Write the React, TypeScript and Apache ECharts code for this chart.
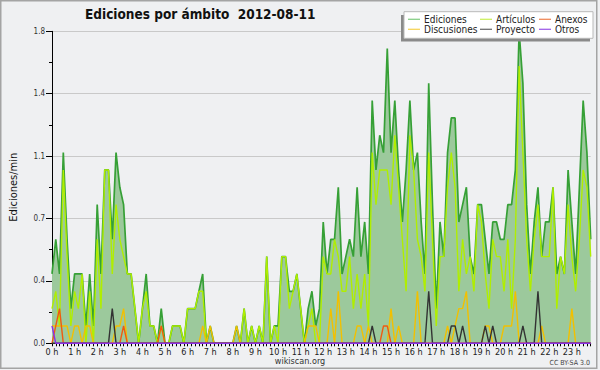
import React, { useEffect, useRef } from 'react';
import * as echarts from 'echarts';

const FONT = "'DejaVu Sans Condensed', 'Liberation Sans Narrow', 'DejaVu Sans', sans-serif";

// 10-minute slots of 2012-08-11
const timeSlots: string[] = [];
for (let h = 0; h < 24; h++) {
  for (let m = 0; m < 60; m += 10) timeSlots.push(`${h}:${m === 0 ? '00' : m}`);
}

const seriesNames = ['Ediciones', 'Artículos', 'Anexos', 'Discusiones', 'Proyecto', 'Otros'];

const ediciones = [
  0.4, 0.6, 0.4, 1.1, 0.6, 0.2, 0.4, 0.4, 0.4, 0.1,
  0.4, 0.1, 0.8, 0.4, 1.0, 1.0, 0.6, 1.1, 0.9, 0.8,
  0.4, 0.4, 0.2, 0, 0.2, 0.4, 0.1, 0.1, 0, 0.2,
  0, 0, 0.1, 0.1, 0.1, 0, 0.2, 0.2, 0.2, 0.3,
  0.4, 0, 0.1, 0, 0, 0, 0, 0, 0, 0.1,
  0, 0.2, 0, 0.1, 0, 0.1, 0, 0.5, 0, 0.1,
  0.1, 0.5, 0.5, 0.3, 0.3, 0.4, 0.2, 0, 0.2, 0.3,
  0.1, 0.2, 0.7, 0.4, 0.6, 0.6, 0.9, 0.4, 0.5, 0.6,
  0.5, 0.9, 0.5, 0.7, 0.4, 1.4, 1.0, 1.2, 1.1, 1.7,
  1.1, 1.4, 1.0, 0.7, 1.0, 1.4, 1.0, 1.1, 0.7, 0.4,
  1.5, 0.8, 0.2, 0.7, 0.5, 1.1, 1.3, 1.3, 0.7, 0.8,
  0.9, 0.5, 0.4, 0.8, 0.8, 0.6, 0.4, 0.7, 0.7, 0.6,
  0.6, 0.8, 0.8, 1.0, 1.8, 1.5, 0.8, 0.4, 0.7, 0.9,
  0.5, 0.7, 0.7, 0.9, 0.4, 0.5, 0.4, 1.0, 0.7, 0.4,
  0.9, 1.4, 1.1, 0.6,
];

const articulos = [
  0.2, 0.3, 0.1, 1.0, 0.5, 0.1, 0.3, 0.2, 0.4, 0,
  0.3, 0, 0.6, 0.2, 1.0, 1.0, 0.4, 0.8, 0.6, 0.5,
  0.4, 0.4, 0.2, 0, 0.2, 0.3, 0.1, 0.1, 0, 0.1,
  0, 0, 0.1, 0.1, 0.1, 0, 0.2, 0.2, 0.2, 0.3,
  0.3, 0, 0, 0, 0, 0, 0, 0, 0, 0,
  0, 0.2, 0, 0.1, 0, 0.1, 0, 0.5, 0, 0.1,
  0, 0.5, 0.5, 0.2, 0.3, 0.4, 0.2, 0, 0.1, 0.2,
  0, 0, 0.5, 0.4, 0.4, 0.6, 0.5, 0.3, 0.3, 0.5,
  0.2, 0.4, 0.2, 0.4, 0.1, 1.1, 0.8, 1.0, 1.0, 1.0,
  0.8, 1.2, 0.9, 0.6, 0.3, 1.2, 1.0, 0.6, 0.5, 0.3,
  1.1, 0.6, 0.1, 0.5, 0.5, 0.9, 1.1, 0.9, 0.3, 0.6,
  0.4, 0.5, 0.3, 0.8, 0.7, 0.4, 0.2, 0.6, 0.5, 0.5,
  0.3, 0.6, 0.2, 0.6, 1.6, 1.1, 0.6, 0.3, 0.6, 0.8,
  0.5, 0.5, 0.5, 0.9, 0.2, 0.5, 0.4, 0.8, 0.5, 0.3,
  0.6, 1.0, 0.9, 0.5,
];

const discusiones = [
  0.1, 0.1, 0.1, 0.1, 0.1, 0, 0.1, 0.1, 0, 0.1,
  0.1, 0, 0, 0, 0, 0, 0, 0.1, 0.1, 0.2,
  0, 0, 0, 0, 0, 0, 0, 0, 0, 0,
  0, 0, 0, 0, 0, 0, 0, 0, 0, 0,
  0.1, 0, 0.1, 0, 0, 0, 0, 0, 0, 0.1,
  0, 0, 0, 0, 0, 0, 0, 0, 0, 0,
  0, 0, 0, 0, 0, 0, 0, 0, 0.1, 0.1,
  0.1, 0, 0, 0, 0.2, 0, 0.3, 0, 0, 0,
  0, 0.1, 0.1, 0, 0.1, 0, 0, 0, 0, 0,
  0.2, 0, 0.1, 0, 0, 0, 0, 0.3, 0, 0,
  0, 0, 0, 0, 0, 0.1, 0, 0.1, 0.2, 0.2,
  0.3, 0, 0, 0, 0, 0.1, 0.1, 0, 0, 0,
  0.1, 0.1, 0.1, 0.3, 0, 0, 0, 0, 0, 0,
  0.1, 0, 0, 0, 0, 0, 0, 0, 0.2, 0,
  0, 0, 0, 0,
];

const anexos = [
  0, 0.1, 0.2, 0, 0, 0, 0, 0, 0, 0,
  0, 0, 0, 0, 0, 0, 0, 0, 0, 0.1,
  0, 0, 0, 0, 0, 0, 0, 0, 0, 0.1,
  0, 0, 0, 0, 0, 0, 0, 0, 0, 0,
  0, 0, 0, 0, 0, 0, 0, 0, 0, 0,
  0, 0, 0, 0, 0, 0, 0, 0, 0, 0,
  0, 0, 0, 0, 0, 0, 0, 0, 0, 0,
  0, 0, 0, 0, 0, 0, 0, 0, 0, 0,
  0, 0, 0, 0, 0, 0, 0, 0, 0.1, 0.1,
  0, 0, 0, 0, 0, 0, 0, 0, 0, 0,
  0, 0, 0, 0, 0, 0, 0, 0, 0, 0,
  0, 0, 0, 0, 0, 0, 0, 0, 0, 0,
  0, 0, 0, 0, 0, 0, 0, 0, 0, 0,
  0, 0, 0, 0, 0, 0, 0, 0, 0, 0,
  0, 0, 0, 0,
];

const proyecto = [
  0, 0, 0, 0, 0, 0, 0, 0, 0, 0,
  0, 0, 0, 0, 0, 0, 0.2, 0, 0, 0,
  0, 0, 0, 0, 0, 0, 0, 0, 0, 0,
  0, 0, 0, 0, 0, 0, 0, 0, 0, 0,
  0, 0, 0, 0, 0, 0, 0, 0, 0, 0,
  0, 0, 0, 0, 0, 0, 0, 0, 0, 0,
  0, 0, 0, 0, 0, 0, 0, 0, 0, 0,
  0, 0, 0, 0, 0, 0, 0, 0, 0, 0,
  0, 0, 0, 0, 0, 0.1, 0, 0, 0, 0,
  0, 0, 0, 0, 0, 0, 0, 0, 0, 0,
  0.3, 0, 0, 0, 0, 0, 0.1, 0.1, 0, 0.1,
  0, 0, 0, 0, 0, 0.1, 0, 0.1, 0, 0,
  0, 0, 0, 0, 0, 0.1, 0, 0, 0, 0.3,
  0, 0, 0, 0, 0, 0, 0, 0, 0, 0,
  0, 0, 0, 0,
];

const otros = [
  0.1, 0, 0, 0, 0, 0, 0, 0, 0, 0,
  0, 0, 0, 0, 0, 0, 0, 0, 0, 0,
  0, 0, 0, 0, 0, 0, 0, 0, 0, 0,
  0, 0, 0, 0, 0, 0, 0, 0, 0, 0,
  0, 0, 0, 0, 0, 0, 0, 0, 0, 0,
  0, 0, 0, 0, 0, 0, 0, 0, 0, 0,
  0, 0, 0, 0, 0, 0, 0, 0, 0, 0,
  0, 0, 0, 0, 0, 0, 0, 0, 0, 0,
  0, 0, 0, 0, 0, 0, 0, 0, 0, 0,
  0, 0, 0, 0, 0, 0, 0, 0, 0, 0,
  0, 0, 0, 0, 0, 0, 0, 0, 0, 0,
  0, 0, 0, 0, 0, 0, 0, 0, 0, 0,
  0, 0, 0, 0, 0, 0, 0, 0, 0, 0,
  0, 0, 0, 0, 0, 0, 0, 0, 0, 0,
  0, 0, 0, 0,
];

const lineColors: Record<string, string> = {
  Ediciones: '#36a036',
  'Artículos': '#b0ee00',
  Anexos: '#f05a10',
  Discusiones: '#f2c000',
  Proyecto: '#333333',
  Otros: '#8a30e8',
};
const legendColors: Record<string, string> = {
  Ediciones: '#88cf88',
  'Artículos': '#cdf060',
  Anexos: '#f08a5a',
  Discusiones: '#f6d45a',
  Proyecto: '#707070',
  Otros: '#a060e8',
};

const BG = '#eff0f2';

export default function App() {
  const ref = useRef<HTMLDivElement>(null);
  useEffect(() => {
    const chart = echarts.init(ref.current as HTMLDivElement, null, { renderer: 'svg' });

    const dataMap: Record<string, number[]> = {
      Ediciones: ediciones,
      'Artículos': articulos,
      Discusiones: discusiones,
      Anexos: anexos,
      Proyecto: proyecto,
      Otros: otros,
    };
    const drawOrder = ['Ediciones', 'Artículos', 'Discusiones', 'Anexos', 'Proyecto', 'Otros'];
    const series = drawOrder.map((name, k) => ({
      name,
      type: 'line',
      data: dataMap[name],
      symbol: 'none',
      z: 2 + k,
      lineStyle: { color: lineColors[name], width: name === 'Ediciones' ? 1.7 : 1.4 },
      itemStyle: { color: lineColors[name] },
      areaStyle: name === 'Ediciones' ? { color: '#9cc99c', opacity: 1 } : undefined,
    }));

    // Legend drawn as a boxed 3x2 grid
    const cols = [408, 480, 539];
    const rows = [19.3, 29.3];
    const legendEls: any[] = [
      { type: 'rect', shape: { x: 401, y: 15, width: 189, height: 26.5 }, style: { fill: '#8a8a8a' }, z: 100 },
      { type: 'rect', shape: { x: 404, y: 11.7, width: 189, height: 26.6 }, style: { fill: '#ffffff', stroke: '#b9b9b9', lineWidth: 1 }, z: 101 },
    ];
    seriesNames.forEach((name, k) => {
      const cx = cols[k % 3];
      const cy = rows[Math.floor(k / 3)];
      legendEls.push({
        type: 'line', shape: { x1: cx, y1: cy, x2: cx + 12, y2: cy },
        style: { stroke: legendColors[name], lineWidth: 1.3 }, z: 102,
      });
      legendEls.push({
        type: 'text', x: cx + 16, y: cy,
        style: { text: name, fill: '#222', font: `10px ${FONT}`, textAlign: 'left', textVerticalAlign: 'middle' },
        z: 102,
      });
    });

    chart.setOption({
      animation: false,
      backgroundColor: BG,
      grid: { left: 46.7, right: 9.3, top: 31.3, bottom: 26.7, containLabel: false },
      xAxis: {
        type: 'category',
        data: timeSlots,
        boundaryGap: false,
        axisLine: { show: true, lineStyle: { color: '#000', width: 1 } },
        axisTick: { show: true, interval: 0, length: 3, lineStyle: { color: '#000', width: 1 } },
        axisLabel: {
          interval: 5,
          margin: 4,
          fontFamily: FONT,
          fontSize: 9,
          color: '#222',
          formatter: (v: string) => (v.endsWith(':00') ? `${parseInt(v, 10)} h` : ''),
        },
        splitLine: { show: false },
      },
      yAxis: {
        type: 'value',
        min: 0,
        max: 1.8,
        interval: 0.36,
        name: 'Ediciones/min',
        nameLocation: 'middle',
        nameGap: 33,
        nameTextStyle: { fontFamily: FONT, fontSize: 11, color: '#111' },
        axisLine: { show: true, lineStyle: { color: '#000', width: 1 } },
        axisTick: { show: true, length: 6, lineStyle: { color: '#000', width: 1 } },
        minorTick: { show: true, splitNumber: 2, length: 3, lineStyle: { color: '#000', width: 1 } },
        axisLabel: {
          margin: 7,
          fontFamily: FONT,
          fontSize: 8,
          color: '#333',
          formatter: (v: number) => v.toFixed(1),
        },
        splitLine: { show: true, lineStyle: { color: '#c9c9c9', width: 1 } },
        minorSplitLine: { show: false },
      },
      series,
      graphic: [
        {
          type: 'rect', shape: { x: 0.75, y: 0.75, width: 596, height: 367.5 },
          style: { fill: 'none', stroke: '#a4a4a4', lineWidth: 1.5 }, z: 99, silent: true,
        },
        {
          type: 'text', x: 85, y: 14,
          style: {
            text: 'Ediciones por ámbito  2012-08-11', fill: '#111',
            font: `bold 13.5px ${FONT}`, textAlign: 'left', textVerticalAlign: 'middle',
          },
          z: 100,
        },
        {
          type: 'text', x: 300, y: 361,
          style: { text: 'wikiscan.org', fill: '#333', font: `9px ${FONT}`, textAlign: 'center', textVerticalAlign: 'middle' },
          z: 100,
        },
        {
          type: 'text', x: 590, y: 362.5,
          style: { text: 'CC BY-SA 3.0', fill: '#444', font: `7px ${FONT}`, textAlign: 'right', textVerticalAlign: 'middle' },
          z: 100,
        },
        ...legendEls,
      ],
    });

    return () => chart.dispose();
  }, []);

  return (
    <div
      ref={ref}
      style={{ position: 'fixed', left: 0, top: 0, width: 600, height: 370 }}
    />
  );
}
